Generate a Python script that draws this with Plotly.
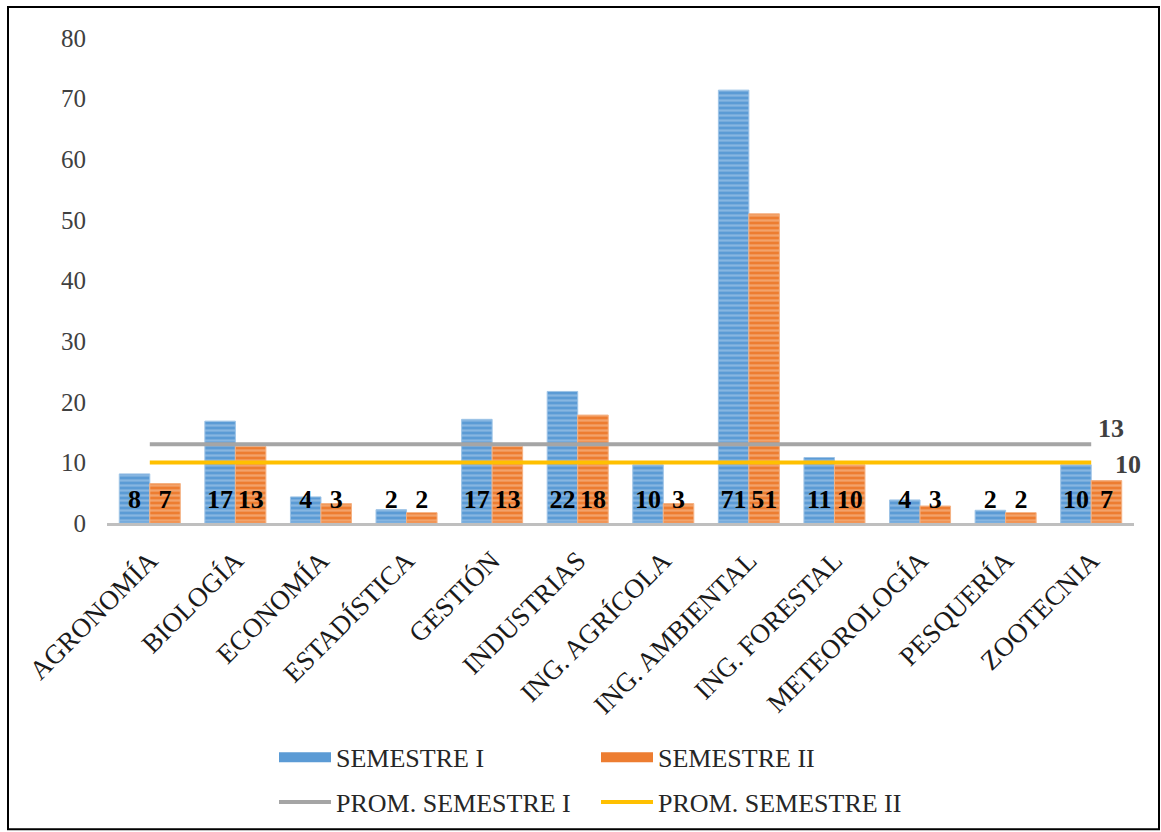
import plotly.graph_objects as go
import numpy as np

categories = ["AGRONOMÍA", "BIOLOGÍA", "ECONOMÍA", "ESTADÍSTICA", "GESTIÓN", "INDUSTRIAS",
              "ING. AGRÍCOLA", "ING. AMBIENTAL", "ING. FORESTAL", "METEOROLOGÍA", "PESQUERÍA", "ZOOTECNIA"]
sem1 = [8.1, 16.8, 4.3, 2.2, 17.1, 21.7, 9.6, 71.4, 10.8, 3.8, 2.1, 9.6]
sem2 = [6.5, 12.6, 3.2, 1.7, 12.6, 17.8, 3.2, 51.0, 9.6, 2.8, 1.7, 7.0]
labels1 = [8, 17, 4, 2, 17, 22, 10, 71, 11, 4, 2, 10]
labels2 = [7, 13, 3, 2, 13, 18, 3, 51, 10, 3, 2, 7]
prom1 = 13
prom2 = 10
y_ticks = [0, 10, 20, 30, 40, 50, 60, 70, 80]

FONT = "Liberation Serif"
W, H = 1161, 832
ML, MR, MT, MB = 107, 27, 38, 308.5
BARGAP = 0.287
LABEL_Y = 3.6

BLUE, BLUE_LIGHT, BLUE_EDGE = "#5B9BD5", "#B4D1EE", "#9DC3E6"
ORANGE, ORANGE_LIGHT, ORANGE_EDGE = "#ED7D31", "#F8C9A6", "#F4B183"

x = np.arange(len(categories))
off = (1 - BARGAP) / 4

fig = go.Figure()
fig.add_trace(go.Bar(
    x=x, y=sem1, name="SEMESTRE I", showlegend=False,
    marker=dict(color=BLUE, line=dict(color=BLUE_EDGE, width=1),
                pattern=dict(shape="-", fgcolor=BLUE_LIGHT, size=5, solidity=0.45, fillmode="overlay")),
))
fig.add_trace(go.Bar(
    x=x, y=sem2, name="SEMESTRE II", showlegend=False,
    marker=dict(color=ORANGE, line=dict(color=ORANGE_EDGE, width=1),
                pattern=dict(shape="-", fgcolor=ORANGE_LIGHT, size=5, solidity=0.45, fillmode="overlay")),
))
# legend-only entries for bar series (wide rectangular swatches)
fig.add_trace(go.Scatter(x=[None], y=[None], mode="lines", name="SEMESTRE I", legend="legend",
                         line=dict(color=BLUE, width=12)))
fig.add_trace(go.Scatter(x=[None], y=[None], mode="lines", name="SEMESTRE II", legend="legend",
                         line=dict(color=ORANGE, width=12)))
fig.add_trace(go.Scatter(
    x=x, y=[prom1] * len(x), mode="lines", name="PROM. SEMESTRE I", legend="legend2",
    line=dict(color="#A5A5A5", width=4),
))
fig.add_trace(go.Scatter(
    x=x, y=[prom2] * len(x), mode="lines", name="PROM. SEMESTRE II", legend="legend2",
    line=dict(color="#FFC000", width=4),
))
# data labels
fig.add_trace(go.Scatter(
    x=x - off, y=[LABEL_Y] * len(x), mode="text", text=[str(v) for v in labels1],
    textfont=dict(family=FONT, size=26, color="#000000", weight="bold"),
    showlegend=False, hoverinfo="skip",
))
fig.add_trace(go.Scatter(
    x=x + off, y=[LABEL_Y] * len(x), mode="text", text=[str(v) for v in labels2],
    textfont=dict(family=FONT, size=26, color="#000000", weight="bold"),
    showlegend=False, hoverinfo="skip",
))

fig.add_annotation(x=x[-1], y=prom1, text=str(prom1), showarrow=False, xanchor="left",
                   xshift=5, yshift=16, font=dict(family=FONT, size=26, color="#404040", weight="bold"))
fig.add_annotation(x=x[-1], y=prom2, text=str(prom2), showarrow=False, xanchor="left",
                   xshift=22, yshift=-2, font=dict(family=FONT, size=26, color="#404040", weight="bold"))

pw = W - ML - MR
ph = H - MT - MB
def px2x(p): return (p - ML) / pw
def py2y(p): return (H - MB - p) / ph

fig.add_shape(type="rect", xref="paper", yref="paper",
              x0=px2x(8), x1=px2x(1159), y0=py2y(830), y1=py2y(7),
              line=dict(color="#000000", width=2), layer="below")

leg_common = dict(orientation="h", yanchor="middle", xanchor="left",
                  entrywidth=255, entrywidthmode="pixels", itemwidth=52,
                  font=dict(family=FONT, size=26, color="#262626"), bgcolor="rgba(0,0,0,0)")

fig.update_layout(
    width=W, height=H,
    margin=dict(l=ML, r=MR, t=MT, b=MB, pad=0, autoexpand=False),
    paper_bgcolor="white", plot_bgcolor="white",
    barmode="group", bargap=BARGAP, bargroupgap=0,
    font=dict(family=FONT, size=25, color="#262626"),
    xaxis=dict(range=[-0.5, len(x) - 0.5], tickmode="array", tickvals=x, ticktext=categories,
               tickangle=-45, showline=True, linecolor="#BFBFBF", linewidth=3, showgrid=False,
               zeroline=False, ticks="", ticklabelstandoff=8, automargin=False,
               tickfont=dict(family=FONT, size=27, color="#1a1a1a")),
    yaxis=dict(range=[0, 80], tickvals=y_ticks, showgrid=False, zeroline=False, showline=False,
               ticks="", ticklabelstandoff=20, automargin=False,
               tickfont=dict(family=FONT, size=25, color="#404040")),
    legend=dict(x=px2x(274), y=py2y(758), **leg_common),
    legend2=dict(x=px2x(274), y=py2y(803), **leg_common),
    showlegend=True,
)

fig.write_html("out.html")
